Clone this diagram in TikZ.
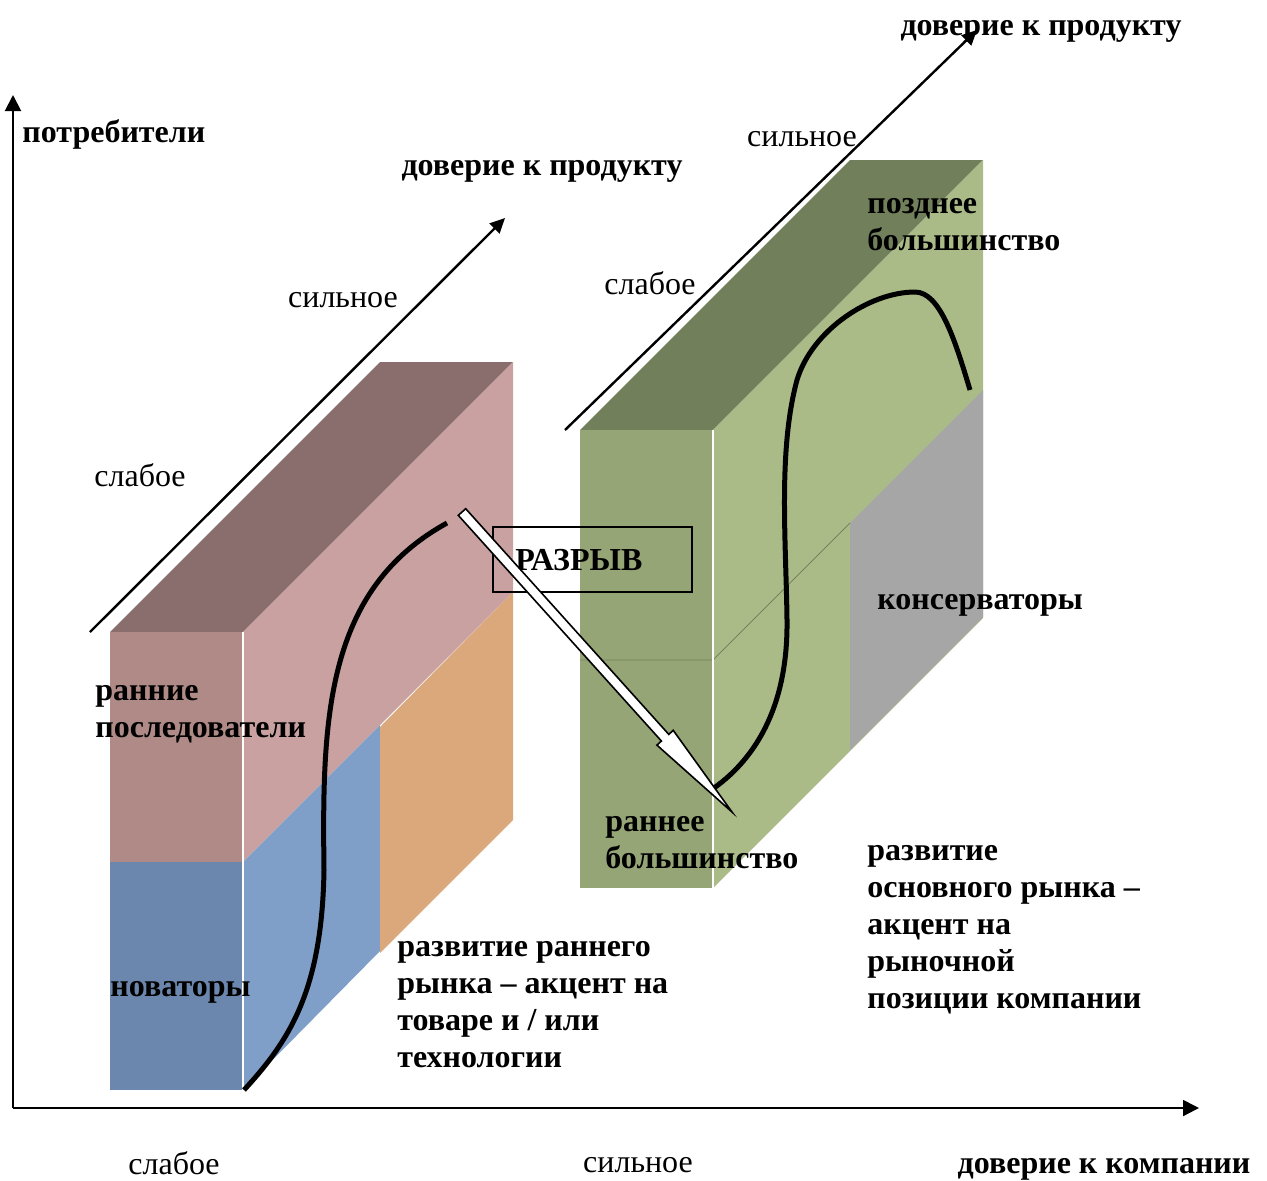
\documentclass[tikz,border=0pt]{standalone}
\usepackage{fontspec}
\setmainfont{Liberation Serif}
\usetikzlibrary{arrows.meta}

\definecolor{leftTop}{HTML}{8A6E6D}
\definecolor{leftFrontUp}{HTML}{AF8A87}
\definecolor{leftFrontLow}{HTML}{6C87AD}
\definecolor{leftSideUp}{HTML}{C9A1A1}
\definecolor{leftSideLow}{HTML}{7F9FC8}
\definecolor{leftSideBack}{HTML}{DBA87C}
\definecolor{rightTop}{HTML}{717F5B}
\definecolor{rightFront}{HTML}{95A575}
\definecolor{rightSide}{HTML}{AABB88}
\definecolor{rightSideBack}{HTML}{A6A6A6}

\begin{document}
\begin{tikzpicture}[%%
  x=0.5pt,y=-0.5pt,%%
  axisStyle/.style={-{Triangle[length=8pt,width=8pt]},line width=1pt},%%
  depthStyle/.style={-{Triangle[length=7.5pt,width=7pt]},line width=1.2pt},%%
  curveStyle/.style={line width=2.5pt},%%
  edgeStyle/.style={white,line width=1pt},%%
  seamStyle/.style={rightFront!80!black,line width=0.4pt},%%
  textStyle/.style={inner sep=0pt,font=\fontsize{16}{18.5}\selectfont},%%
  labelStyle/.style={inner sep=0pt,font=\fontsize{16}{18.5}\selectfont\bfseries,align=left}%%
]
%%
\useasboundingbox (0,0) rectangle (1267,1180);
%%
\pgfmathsetmacro{\depth}{270} %% the depth of a block, drawn at 45 degrees
\pgfmathsetmacro{\half}{137}  %% where the back part of a side begins
%%
%% The two axes of the plane.
\coordinate (origin) at (13,1108);
\coordinate (yEnd) at (13,95);
\coordinate (xEnd) at (1199,1108);
\draw[axisStyle] (origin) -- (yEnd);
\draw[axisStyle] (origin) -- (xEnd);
%%
%% The depth axes, one for each block.
\coordinate (leftDepthStart) at (90,632);
\coordinate (leftDepthEnd) at (505,218);
\coordinate (rightDepthStart) at (565,430);
\coordinate (rightDepthEnd) at (977,30);
\draw[depthStyle] (leftDepthStart) -- (leftDepthEnd);
\draw[depthStyle] (rightDepthStart) -- (rightDepthEnd);
%%
%% Left block: the early market.
\fill[leftTop] (110,632) -- (243,632) -- ++(\depth,-\depth) -- ++(-133,0) -- cycle;
\fill[leftFrontUp] (110,632) rectangle (243,862);
\fill[leftFrontLow] (110,862) rectangle (243,1090);
\fill[leftSideUp] (243,632) -- ++(\depth,-\depth) -- ++(0,230) -- (243,862) -- cycle;
\fill[leftSideLow] (243,862) -- ++(\half,-\half) -- ++(0,226) -- (243,1090) -- cycle;
\fill[leftSideBack] (380,727) -- (513,592) -- (513,820) -- (380,953) -- cycle;
\draw[edgeStyle] (243,632) -- (243,1090);
%%
%% Right block: the mainstream market.
\fill[rightTop] (580,430) -- (713,430) -- ++(\depth,-\depth) -- ++(-133,0) -- cycle;
\fill[rightFront] (580,430) rectangle (713,888);
\fill[rightSide] (713,430) -- ++(\depth,-\depth) -- ++(0,458) -- (713,888) -- cycle;
\fill[rightSideBack] (850,523) -- (983,390) -- (983,617) -- (850,750) -- cycle;
\draw[seamStyle] (580,660) -- (713,660) -- ++(\half,-\half);
\draw[edgeStyle] (713,430) -- (713,888);
%%
%% The adoption curves.
\draw[curveStyle] (244,1090) .. controls (290,1040) and (322,990) .. (324,870)
  .. controls (322,720) and (325,590) .. (447,523);
\draw[curveStyle] (714,788) .. controls (760,755) and (788,700) .. (787,620)
  .. controls (786,540) and (778,450) .. (797,380)
  .. controls (812,330) and (870,292) .. (915,292)
  .. controls (940,292) and (955,340) .. (970,390);
%%
%% The chasm.
\draw[line width=0.8pt] (493,527) rectangle (692,592);
\node[labelStyle,anchor=base west] (gapText) at (515,570) {РАЗРЫВ};
\filldraw[fill=white,line width=0.8pt] (465.7,508.7) -- (668.8,734.4)
  -- (673.2,730.3) -- (732,812) -- (656.9,745.1) -- (661.4,741.0)
  -- (458.3,515.3) -- cycle;
%%
%% Labels of the axes.
\node[labelStyle,anchor=base west] (consumers) at (22,142) {потребители};
\node[labelStyle,anchor=base] (leftTrust) at (542,175) {доверие к продукту};
\node[labelStyle,anchor=base] (rightTrust) at (1041,35) {доверие к продукту};
\node[labelStyle,anchor=base] (companyTrust) at (1104,1173) {доверие к компании};
\node[textStyle,anchor=base] (leftStrong) at (343,307) {сильное};
\node[textStyle,anchor=base] (leftWeak) at (140,486) {слабое};
\node[textStyle,anchor=base] (rightStrong) at (802,146) {сильное};
\node[textStyle,anchor=base] (rightWeak) at (650,294) {слабое};
\node[textStyle,anchor=base] (bottomWeak) at (174,1174) {слабое};
\node[textStyle,anchor=base] (bottomStrong) at (638,1172) {сильное};
%%
%% Labels of the groups (base is the last line).
\node[labelStyle,anchor=base west] (earlyAdopters) at (95,737) {ранние\\последователи};
\node[labelStyle,anchor=base west] (innovators) at (110,996) {новаторы};
\node[labelStyle,anchor=base west] (earlyMajority) at (605,868) {раннее\\большинство};
\node[labelStyle,anchor=base west] (lateMajority) at (867,250) {позднее\\большинство};
\node[labelStyle,anchor=base west] (laggards) at (877,609) {консерваторы};
\node[labelStyle,anchor=base west] (earlyMarket) at (397,1067)
  {развитие раннего\\рынка – акцент на\\товаре и / или\\технологии};
\node[labelStyle,anchor=base west] (mainMarket) at (867,1008)
  {развитие\\основного рынка –\\акцент на\\рыночной\\позиции компании};
\end{tikzpicture}
\end{document}
